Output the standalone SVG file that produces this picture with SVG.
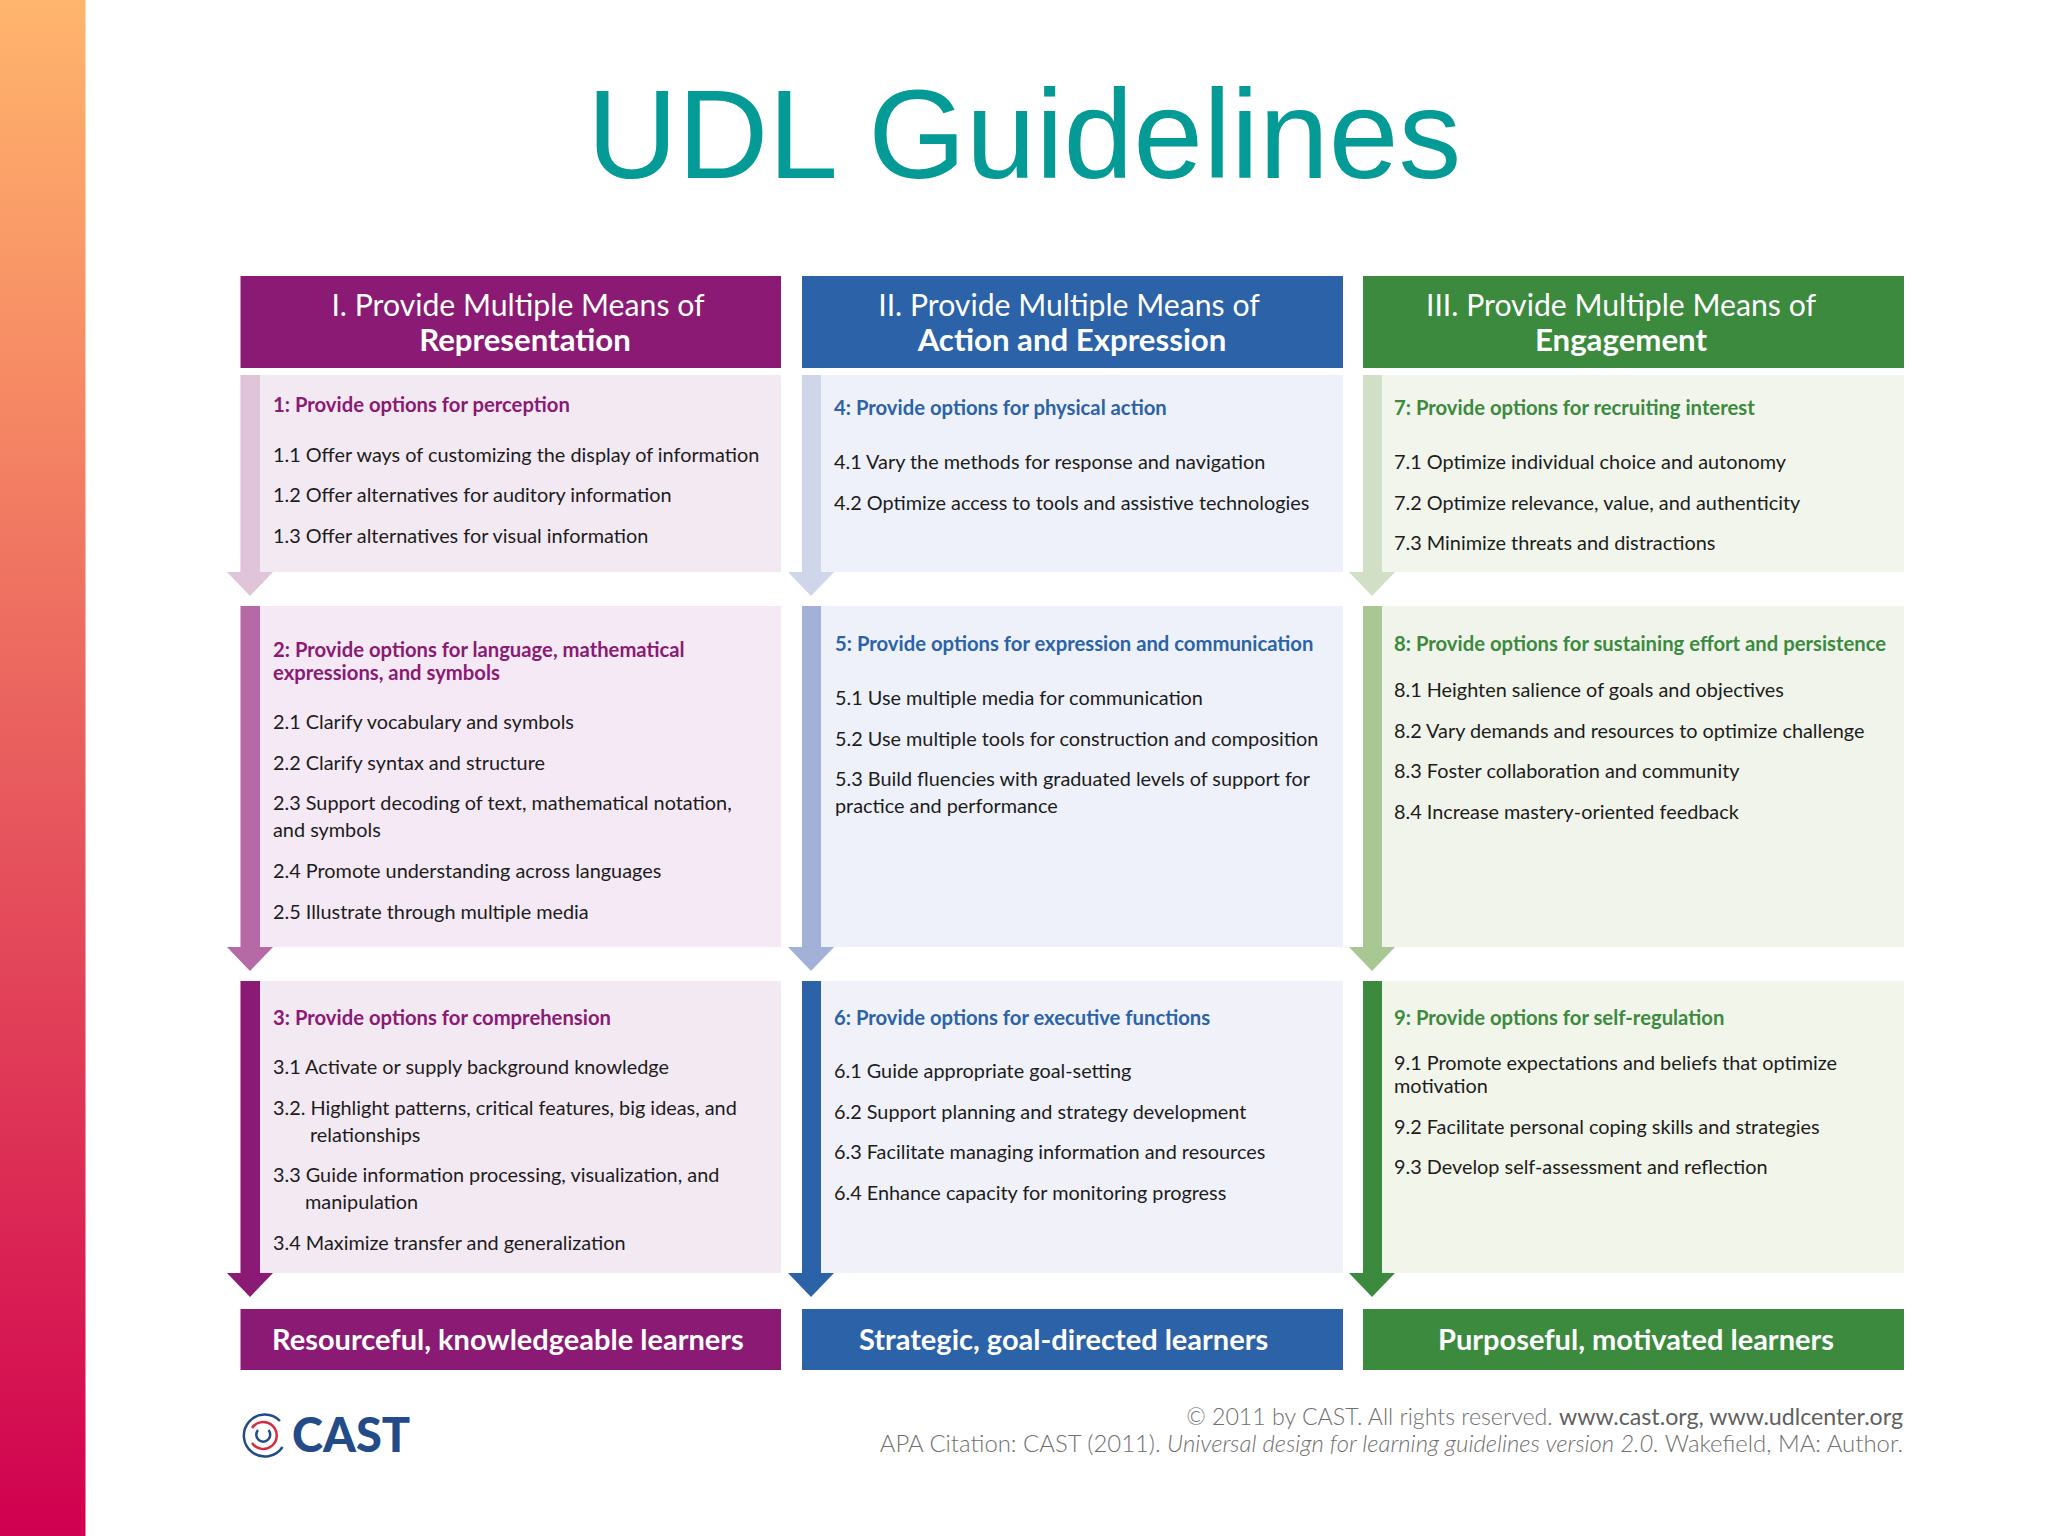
<svg xmlns="http://www.w3.org/2000/svg" width="2048" height="1536" viewBox="0 0 2048 1536">
<style>
text{font-family:"Lato","Noto Sans",sans-serif;font-size:19.85px;fill:#1c1c1c}
.h{font-size:30.2px;fill:#fff;text-anchor:middle}
.b{font-weight:700;font-size:31.2px}
.f{font-size:29px;font-weight:700;fill:#fff}
.t{font-weight:700;font-size:20.25px}
.p{fill:#8a1a73}.bl{fill:#2b62a8}.g{fill:#3b8a3e}
.c{font-size:23.2px;font-weight:300;fill:#707070;text-anchor:end}
.c2{font-size:23.9px}
</style>
<defs><linearGradient id="band" x1="0" y1="0" x2="0" y2="1"><stop offset="0" stop-color="#ffb56d"/><stop offset=".25" stop-color="#f68a64"/><stop offset=".5" stop-color="#e85c5e"/><stop offset=".75" stop-color="#dd2f55"/><stop offset="1" stop-color="#d00050"/></linearGradient></defs>
<rect id="band-rect" x="0" y="0" width="85.500" height="1536" fill="url(#band)"/>
<text id="title" x="587" y="178" style="font-family:'Liberation Sans',Arial,sans-serif;font-size:125.500px;fill:#049a96">UDL Guidelines</text>

<g id="panels-bg">
<rect x="240.500" y="375" width="540.500" height="197" fill="#f3e9f2"/><rect x="240.500" y="606" width="540.500" height="341" fill="#f4e9f4"/><rect x="240.500" y="981" width="540.500" height="292" fill="#f3e9f3"/>
<rect x="802" y="375" width="541" height="197" fill="#eef1f9"/><rect x="802" y="606" width="541" height="341" fill="#eef1f9"/><rect x="802" y="981" width="541" height="292" fill="#f0f1f9"/>
<rect x="1363" y="375" width="541" height="197" fill="#f1f5eb"/><rect x="1363" y="606" width="541" height="341" fill="#f1f4eb"/><rect x="1363" y="981" width="541" height="292" fill="#f2f5e9"/>
</g>

<g id="connectors">
<path fill="#e0c4da" d="M240.500 375H260V572H273L250 596L227 572H240.500Z"/>
<path fill="#b56aa5" d="M240.500 606H260V947H273L250 971L227 947H240.500Z"/>
<path fill="#8a1a73" d="M240.500 981H260V1273H273L250 1297L227 1273H240.500Z"/>
<path fill="#cfd6ea" d="M802 375H821V572H834L811 596L788 572H802Z"/>
<path fill="#a3b1d8" d="M802 606H821V947H834L811 971L788 947H802Z"/>
<path fill="#2b62a8" d="M802 981H821V1273H834L811 1297L788 1273H802Z"/>
<path fill="#d1dfc6" d="M1363 375H1382V572H1395L1372 596L1349 572H1363Z"/>
<path fill="#a9c793" d="M1363 606H1382V947H1395L1372 971L1349 947H1363Z"/>
<path fill="#3b8a3e" d="M1363 981H1382V1273H1395L1372 1297L1349 1273H1363Z"/>
</g>

<g id="header-1"><rect x="240.500" y="276" width="540.500" height="92" fill="#8a1a73"/><text class="h" x="518" y="316">I. Provide Multiple Means of</text><text class="h b" x="525" y="351">Representation</text></g>
<g id="header-2"><rect x="802" y="276" width="541" height="92" fill="#2b62a8"/><text class="h" x="1069" y="316">II. Provide Multiple Means of</text><text class="h b" x="1072" y="351">Action and Expression</text></g>
<g id="header-3"><rect x="1363" y="276" width="541" height="92" fill="#3b8a3e"/><text class="h" x="1621" y="316">III. Provide Multiple Means of</text><text class="h b" x="1621" y="351">Engagement</text></g>

<g id="node-1">
<text class="t p" x="273" y="412">1: Provide options for perception</text>
<text x="273" y="461.500">1.1 Offer ways of customizing the display of information</text>
<text x="273" y="502">1.2 Offer alternatives for auditory information</text>
<text x="273" y="543">1.3 Offer alternatives for visual information</text>
</g>
<g id="node-2">
<text class="t p" x="273" y="657">2: Provide options for language, mathematical</text>
<text class="t p" x="273" y="680">expressions, and symbols</text>
<text x="273" y="729">2.1 Clarify vocabulary and symbols</text>
<text x="273" y="770">2.2 Clarify syntax and structure</text>
<text x="273" y="810">2.3 Support decoding of text, mathematical notation,</text>
<text x="273" y="837">and symbols</text>
<text x="273" y="878">2.4 Promote understanding across languages</text>
<text x="273" y="918.500">2.5 Illustrate through multiple media</text>
</g>
<g id="node-3">
<text class="t p" x="273" y="1025">3: Provide options for comprehension</text>
<text x="273" y="1074">3.1 Activate or supply background knowledge</text>
<text x="273" y="1114.500">3.2. Highlight patterns, critical features, big ideas, and</text>
<text x="310" y="1141.500">relationships</text>
<text x="273" y="1182">3.3 Guide information processing, visualization, and</text>
<text x="305" y="1209">manipulation</text>
<text x="273" y="1250">3.4 Maximize transfer and generalization</text>
</g>
<g id="node-4">
<text class="t bl" x="834" y="415">4: Provide options for physical action</text>
<text x="834" y="469">4.1 Vary the methods for response and navigation</text>
<text x="834" y="509.500">4.2 Optimize access to tools and assistive technologies</text>
</g>
<g id="node-5">
<text class="t bl" x="835" y="651">5: Provide options for expression and communication</text>
<text x="835" y="705">5.1 Use multiple media for communication</text>
<text x="835" y="746">5.2 Use multiple tools for construction and composition</text>
<text x="835" y="786">5.3 Build fluencies with graduated levels of support for</text>
<text x="835" y="813">practice and performance</text>
</g>
<g id="node-6">
<text class="t bl" x="834" y="1025">6: Provide options for executive functions</text>
<text x="834" y="1078">6.1 Guide appropriate goal-setting</text>
<text x="834" y="1119">6.2 Support planning and strategy development</text>
<text x="834" y="1159">6.3 Facilitate managing information and resources</text>
<text x="834" y="1200">6.4 Enhance capacity for monitoring progress</text>
</g>
<g id="node-7">
<text class="t g" x="1394" y="415">7: Provide options for recruiting interest</text>
<text x="1394" y="469">7.1 Optimize individual choice and autonomy</text>
<text x="1394" y="510">7.2 Optimize relevance, value, and authenticity</text>
<text x="1394" y="550">7.3 Minimize threats and distractions</text>
</g>
<g id="node-8">
<text class="t g" x="1394" y="651">8: Provide options for sustaining effort and persistence</text>
<text x="1394" y="697">8.1 Heighten salience of goals and objectives</text>
<text x="1394" y="738">8.2 Vary demands and resources to optimize challenge</text>
<text x="1394" y="778">8.3 Foster collaboration and community</text>
<text x="1394" y="819">8.4 Increase mastery-oriented feedback</text>
</g>
<g id="node-9">
<text class="t g" x="1394" y="1025">9: Provide options for self-regulation</text>
<text x="1394" y="1070">9.1 Promote expectations and beliefs that optimize</text>
<text x="1394" y="1093">motivation</text>
<text x="1394" y="1134">9.2 Facilitate personal coping skills and strategies</text>
<text x="1394" y="1174">9.3 Develop self-assessment and reflection</text>
</g>

<g id="footer-1"><rect x="240.500" y="1309" width="540.500" height="61" fill="#8a1a73"/><text class="f" x="272" y="1350">Resourceful, knowledgeable learners</text></g>
<g id="footer-2"><rect x="802" y="1309" width="541" height="61" fill="#2b62a8"/><text class="f" x="859" y="1350">Strategic, goal-directed learners</text></g>
<g id="footer-3"><rect x="1363" y="1309" width="541" height="61" fill="#3b8a3e"/><text class="f" x="1438" y="1350">Purposeful, motivated learners</text></g>

<g id="logo">
<g fill="none" stroke-width="2.500">
<path stroke="#234b87" d="M280 1421A21 21 0 1 0 282.500 1447"/>
<path stroke="#d8283f" d="M252 1428A13.500 13.500 0 1 1 252 1443"/>
<path stroke="#234b87" d="M258 1430A7 7 0 1 0 268.500 1430"/>
</g>
<text x="292" y="1452" style="font-size:47px;font-weight:900;fill:#234b87">CAST</text>
</g>
<g id="credit">
<text class="c" x="1903" y="1425">© 2011 by CAST. All rights reserved. <tspan style="font-weight:400;fill:#5f5f5f">www.cast.org, www.udlcenter.org</tspan></text>
<text class="c c2" x="1903" y="1452">APA Citation: CAST (2011). <tspan style="font-style:italic">Universal design for learning guidelines version 2.0.</tspan> Wakefield, MA: Author.</text>
</g>
</svg>
